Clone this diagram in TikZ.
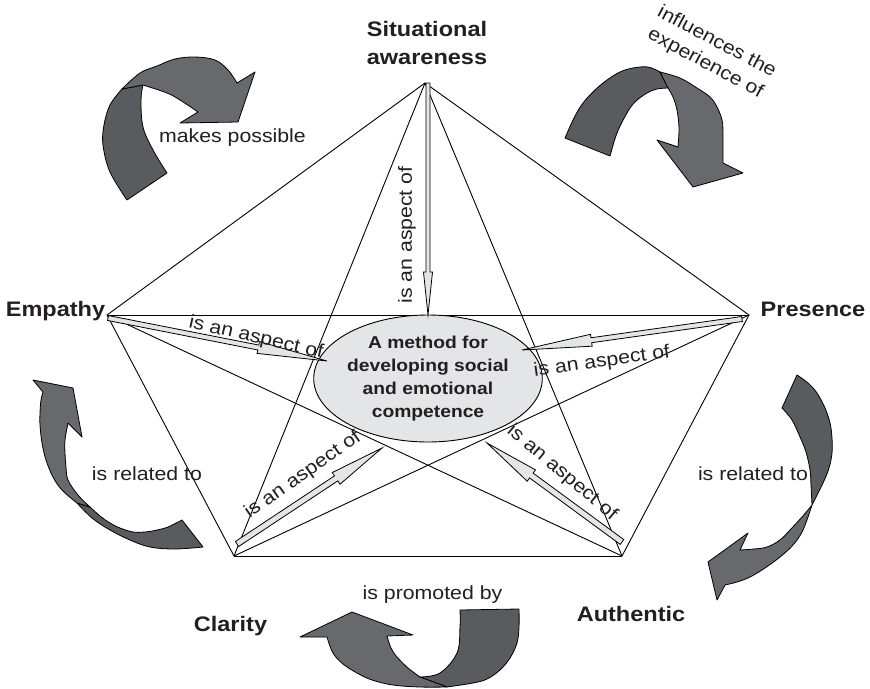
\documentclass[tikz,border=0pt]{standalone}
\usepackage{fontspec}
\setmainfont[FakeStretch=1.12]{Liberation Sans}
\usetikzlibrary{calc,shapes.geometric}

\definecolor{ribbonDark}{HTML}{5A5B5E}
\definecolor{ribbonLight}{HTML}{68696C}
\definecolor{paleFill}{HTML}{E4E5E6}
\definecolor{inkText}{HTML}{231F20}

\tikzset{
  vertexlabel/.style={font=\bfseries\fontsize{21}{28}\selectfont, text=inkText, inner sep=0pt, align=center},
  relabel/.style={font=\fontsize{19}{24}\selectfont, text=inkText, inner sep=0pt, align=center},
  edge/.style={draw=black, line width=0.9pt},
  core/.style={ellipse, draw=black, line width=0.9pt, fill=paleFill, minimum width=200pt, minimum height=127pt,
    inner sep=0pt, align=center, font=\bfseries\fontsize{17.2}{23}\selectfont, text=inkText},
  ribbondark/.style={fill=ribbonDark, draw=black, line width=0.8pt, line join=round},
  ribbonlight/.style={fill=ribbonLight, draw=black, line width=0.8pt, line join=round},
  thinarrow/.style={fill=paleFill, draw=black, line width=0.8pt, line join=miter},
}

% slim block arrow: tail, tip, shaft half width, head half width, head length
\newcommand\aspectarrow[5]{%
  \coordinate (#2-base) at ($(#2)!#5!(#1)$);
  \draw[thinarrow] ($(#1)!#3!90:(#2)$) -- ($(#2-base)!#3!90:(#2)$) -- ($(#2-base)!#4!90:(#2)$)
    -- (#2) -- ($(#2-base)!#4!-90:(#2)$) -- ($(#2-base)!#3!-90:(#2)$) -- ($(#1)!#3!-90:(#2)$) -- cycle;
}

\begin{document}
\begin{tikzpicture}[x=1pt,y=-1pt]
\fill[white] (0,0) rectangle (870,688);
\useasboundingbox (0,0) rectangle (870,688);

% corners of the pentagon
\coordinate (T)  at (425,83);
\coordinate (L)  at (107,315);
\coordinate (R)  at (749,315);
\coordinate (BL) at (234,556);
\coordinate (BR) at (622,556);

% every pair of corners is joined
\foreach \a/\b in {T/L,T/R,T/BL,T/BR,L/R,L/BL,L/BR,R/BL,R/BR,BL/BR}
  \draw[edge] (\a) -- (\b);

% central idea
\node[core] (core) at (428,378.5) {A method for\\developing social\\and emotional\\competence};

% aspect arrows towards the centre
\coordinate (sa0) at (428,83);  \coordinate (sa1) at (428,315);
\coordinate (em0) at (108,318); \coordinate (em1) at (327,361);
\coordinate (pr0) at (742,319); \coordinate (pr1) at (522,350);
\coordinate (cl0) at (237,544); \coordinate (cl1) at (382,448);
\coordinate (au0) at (622,542); \coordinate (au1) at (487,443);

\aspectarrow{sa0}{sa1}{2pt}{4.5pt}{43pt}
\aspectarrow{em0}{em1}{2.5pt}{6pt}{70pt}
\aspectarrow{pr0}{pr1}{2.5pt}{6pt}{70pt}
\aspectarrow{cl0}{cl1}{3pt}{7pt}{55pt}
\aspectarrow{au0}{au1}{3pt}{7pt}{55pt}

\node[relabel, rotate=90]    (asp1) at (407,235) {is an aspect of};
\node[relabel, rotate=-12.8] (asp2) at (256,338) {is an aspect of};
\node[relabel, rotate=8]     (asp3) at (602,362) {is an aspect of};
\node[relabel, rotate=35]    (asp4) at (303,475) {is an aspect of};
\node[relabel, rotate=-40]   (asp5) at (562,473) {is an aspect of};

% corner labels
\node[vertexlabel] (lsit) at (427,43) {Situational\\awareness};
\node[vertexlabel, anchor=base] (lemp) at (55.5,316) {Empathy};
\node[vertexlabel, anchor=base] (lpre) at (813,316) {Presence};
\node[vertexlabel, anchor=base] (lcla) at (230.5,631) {Clarity};
\node[vertexlabel, anchor=base] (laut) at (631,621) {Authentic};

% curled ribbon arrows around the pentagon
% top left
\draw[ribbondark] (127,200) -- plot[smooth, tension=0.6] coordinates {(127,200) (110,172) (103,145) (104,125) (110,105) (122,89)}
  -- (143,85) -- plot[smooth, tension=0.6] coordinates {(143,85) (141,100) (143,127) (153,150) (167,173)} -- cycle;
\draw[ribbonlight] (122,89) -- plot[smooth, tension=0.6] coordinates {(122,89) (140,73) (157,66) (175,59) (195,57) (215,60) (228,70) (237,83)}
  -- (255,72) -- (238,122) -- (180,123) -- (198,112)
  -- plot[smooth, tension=0.6] coordinates {(198,112) (180,100) (167,93) (143,85)} -- cycle;
% top right
\draw[ribbondark] (565,138) -- plot[smooth, tension=0.6] coordinates {(565,138) (574,118) (583,103) (595,90) (607,80) (620,72) (633,68) (648,67) (660,72)}
  -- (668,88) -- plot[smooth, tension=0.6] coordinates {(668,88) (657,89) (647,93) (635,102) (627,113) (617,133) (610,156)} -- cycle;
\draw[ribbonlight] (660,72) -- plot[smooth, tension=0.6] coordinates {(660,72) (680,78) (697,88) (710,97) (717,107) (722,120) (723,133) (723,150) (723,163)}
  -- (743,173) -- (693,187) -- (657,140) -- (678,147)
  -- plot[smooth, tension=0.6] coordinates {(678,147) (679,128) (677,110) (673,97) (668,88)} -- cycle;
% left
\draw[ribbondark] (77,503) -- plot[smooth, tension=0.6] coordinates {(77,503) (92,518) (110,530) (130,540) (150,547) (175,549) (203,547)}
  -- (182,520) -- plot[smooth, tension=0.6] coordinates {(182,520) (168,527) (157,530) (145,532) (133,532) (120,528) (110,523) (100,516) (90,507)} -- cycle;
\draw[ribbonlight] (77,503) -- plot[smooth, tension=0.6] coordinates {(77,503) (62,490) (53,477) (46,460) (42,443) (40,425) (40,413) (41,400) (43,392)}
  -- (33,380) -- (73,388) -- (82,437) -- (68,423)
  -- plot[smooth, tension=0.6] coordinates {(68,423) (65,440) (65,453) (66,467) (68,480) (78,495) (90,507)} -- cycle;
% right
\draw[ribbondark] (797,375) -- plot[smooth, tension=0.6] coordinates {(797,375) (808,383) (817,393) (825,408) (830,423) (832,438) (832,453) (829,468) (823,483) (812,505)}
  -- plot[smooth, tension=0.6] coordinates {(812,505) (811,485) (810,470) (806,452) (800,437) (792,420) (782,408)} -- cycle;
\draw[ribbonlight] (812,505) -- plot[smooth, tension=0.6] coordinates {(812,505) (803,530) (793,545) (780,557) (765,568) (750,577) (737,582) (725,585)}
  -- (717,600) -- (708,562) -- (748,533) -- (740,550)
  -- plot[smooth, tension=0.6] coordinates {(740,550) (754,549) (767,547) (780,540) (790,530) (802,517) (812,505)} -- cycle;
% bottom
\draw[ribbondark] (460,610) -- (519,609) -- plot[smooth, tension=0.6] coordinates {(519,609) (519,627) (517,643) (510,658) (500,670) (487,679) (473,683) (447,687)}
  -- (420,677) -- plot[smooth, tension=0.6] coordinates {(420,677) (440,673) (457,653) (460,627) (460,610)} -- cycle;
\draw[ribbonlight] (447,687) -- plot[smooth, tension=0.6] coordinates {(447,687) (420,687) (393,685) (372,680) (357,673) (343,664) (333,653) (327,637)}
  -- (300,637) -- (352,612) -- (413,635) -- (387,636)
  -- plot[smooth, tension=0.6] coordinates {(387,636) (391,648) (397,657) (408,668) (420,677)} -- cycle;

% relation labels
\node[relabel, anchor=base] (mk) at (232.5,142) {makes possible};
\node[relabel, rotate=-28] (inf) at (711,53) {influences the\\experience of};
\node[relabel, anchor=base] (rl1) at (147,480) {is related to};
\node[relabel, anchor=base] (rl2) at (753,480) {is related to};
\node[relabel, anchor=base] (pro) at (432.5,599) {is promoted by};
\end{tikzpicture}
\end{document}
